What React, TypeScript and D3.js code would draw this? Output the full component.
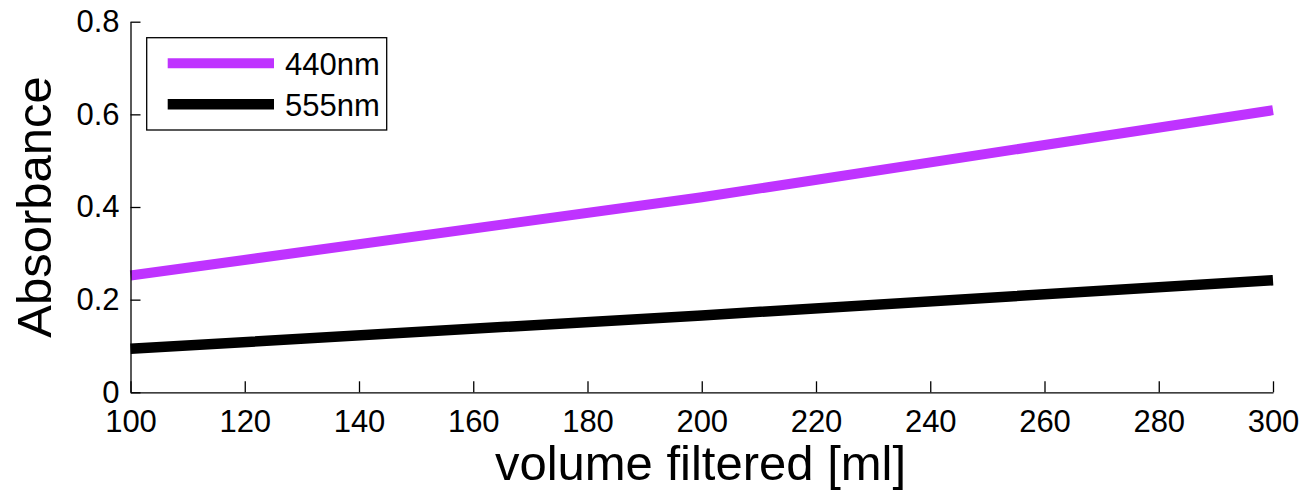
import React, { useEffect, useRef } from "react";
import * as d3 from "d3";

// Filtered volume (ml) and absorbance at two wavelengths
const volumes = [100, 200, 300];
const abs440 = [0.252, 0.421, 0.609];
const abs555 = [0.094, 0.166, 0.242];

const xTicks = [100, 120, 140, 160, 180, 200, 220, 240, 260, 280, 300];
const yTicks = [0, 0.2, 0.4, 0.6, 0.8];

const seriesNames = ["440nm", "555nm"];
const seriesColors = ["#bf33ff", "#000000"];

const W = 1306;
const H = 495;
const FONT = "'Liberation Sans', Arial, Helvetica, sans-serif";

export default function App() {
  const xAxisRef = useRef<SVGGElement>(null);
  const yAxisRef = useRef<SVGGElement>(null);

  const x = d3.scaleLinear().domain([100, 300]).range([130.5, 1273]);
  const y = d3.scaleLinear().domain([0, 0.8]).range([392.3, 21.7]);

  useEffect(() => {
    const xa = d3
      .axisBottom(x)
      .tickValues(xTicks)
      .tickFormat((d) => String(d))
      .tickSizeInner(-11)
      .tickSizeOuter(0)
      .tickPadding(18);
    const ya = d3
      .axisLeft(y)
      .tickValues(yTicks)
      .tickFormat((d) => String(d))
      .tickSizeInner(-10)
      .tickSizeOuter(0)
      .tickPadding(11);
    const gx = d3.select(xAxisRef.current!);
    gx.call(xa as any);
    const gy = d3.select(yAxisRef.current!);
    gy.call(ya as any);
    for (const g of [gx, gy]) {
      g.attr("font-family", FONT).attr("font-size", 31);
      g.selectAll("path, line").attr("stroke", "#000").attr("stroke-width", 1.3);
      g.selectAll("text").attr("fill", "#000");
    }
  }, []);

  const line = d3
    .line<number>()
    .x((_, i) => x(volumes[i]))
    .y((d) => y(d));

  const series = [abs440, abs555];
  const widths = [10, 10.5];

  return (
    <svg
      width={W}
      height={H}
      style={{ position: "absolute", left: 0, top: 0, background: "#fff" }}
    >
      <rect x={0} y={0} width={W} height={H} fill="#fff" />
      {series.map((s, i) => (
        <path
          key={seriesNames[i]}
          d={line(s) ?? ""}
          fill="none"
          stroke={seriesColors[i]}
          strokeWidth={widths[i]}
          strokeLinecap="butt"
          strokeLinejoin="round"
        />
      ))}
      <g ref={xAxisRef} transform={`translate(0,${y(0)})`} />
      <g ref={yAxisRef} transform={`translate(${x(100)},0)`} />

      <text
        x={700.5}
        y={480}
        textAnchor="middle"
        fontFamily={FONT}
        fontSize={49}
        fill="#000"
      >
        volume filtered [ml]
      </text>
      <text
        transform={`translate(51,${(y(0) + y(0.8)) / 2}) rotate(-90)`}
        textAnchor="middle"
        fontFamily={FONT}
        fontSize={49}
        fill="#000"
      >
        Absorbance
      </text>

      {/* Legend */}
      <g>
        <rect
          x={146.7}
          y={37.7}
          width={240}
          height={92.3}
          fill="#fff"
          stroke="#000"
          strokeWidth={1.3}
        />
        {seriesNames.map((name, i) => (
          <g key={name} transform={`translate(0,${63.3 + i * 41})`}>
            <line
              x1={167.7}
              x2={274}
              y1={0}
              y2={0}
              stroke={seriesColors[i]}
              strokeWidth={widths[i]}
            />
            <text
              x={285}
              y={11.5}
              fontFamily={FONT}
              fontSize={31}
              fill="#000"
            >
              {name}
            </text>
          </g>
        ))}
      </g>
    </svg>
  );
}
